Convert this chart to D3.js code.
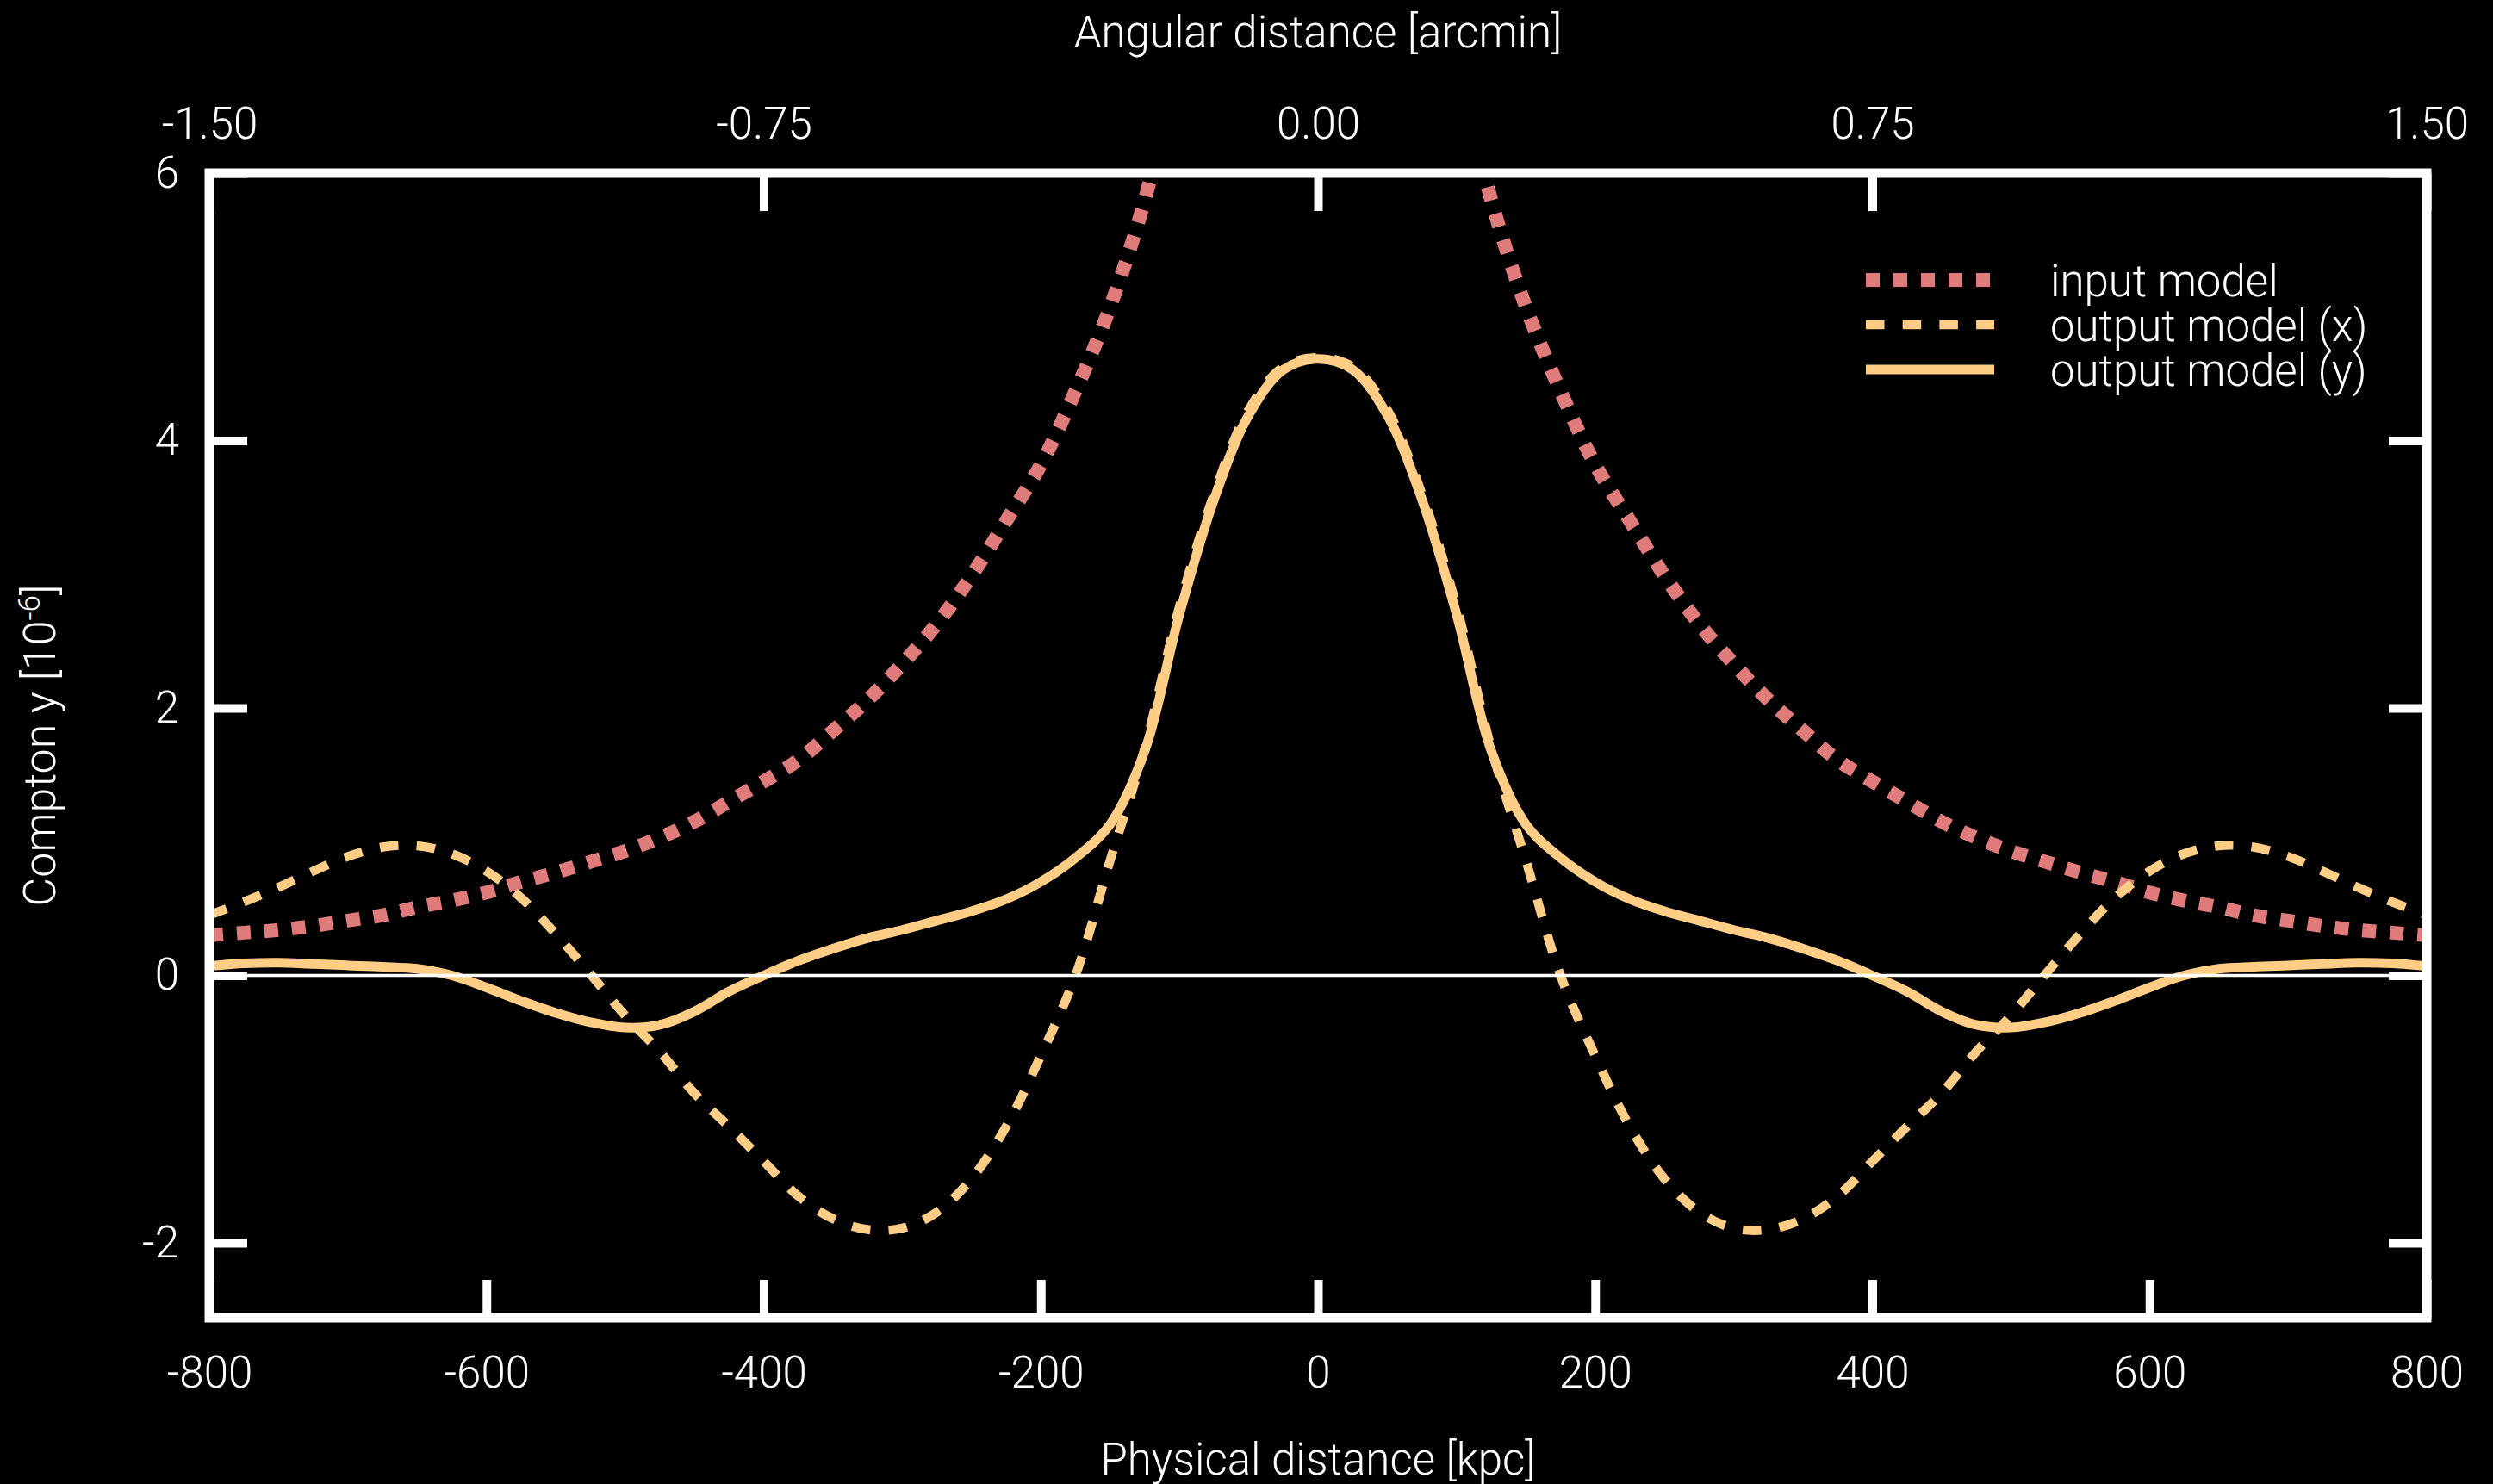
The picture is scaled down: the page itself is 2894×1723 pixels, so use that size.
<!DOCTYPE html>
<html>
<head>
<meta charset="utf-8">
<script src="https://cdn.jsdelivr.net/npm/d3@7"></script>
<style>
  body { margin: 0; background: #000; }
  text { font-family: Roboto, "Helvetica Neue", "Liberation Sans", sans-serif; font-weight: 300; font-size: 51px; fill: #fff; }
</style>
</head>
<body>
<div id="chart"></div>
<script>
// physical distance grid [kpc]
const kpc = [-800,-775,-750,-725,-700,-675,-650,-625,-600,-575,-550,-525,-500,-475,-450,-425,-400,
  -375,-350,-325,-300,-275,-250,-225,-200,-175,-150,-125,-100,-75,-50,-25,0,
  25,50,75,100,125,150,175,200,225,250,275,300,325,350,375,400,
  425,450,475,500,525,550,575,600,625,650,675,700,725,750,775,800];

// Compton y [1e-6]
const inputModel = [0.30,0.32,0.34,0.37,0.41,0.45,0.51,0.56,0.62,0.70,0.77,0.85,0.93,1.03,1.15,1.30,1.45,
  1.61,1.83,2.06,2.33,2.63,2.99,3.40,3.82,4.37,5.00,5.80,6.90,null,null,null,null,
  null,null,null,6.90,5.80,5.00,4.37,3.82,3.40,2.99,2.63,2.33,2.06,1.83,1.61,1.45,
  1.30,1.15,1.03,0.93,0.85,0.77,0.70,0.62,0.56,0.51,0.45,0.41,0.37,0.34,0.32,0.30];

const outputX = [0.45,0.55,0.66,0.78,0.89,0.96,0.97,0.91,0.78,0.58,0.31,0.01,-0.30,-0.57,-0.88,-1.13,-1.39,
  -1.65,-1.82,-1.90,-1.89,-1.77,-1.52,-1.13,-0.60,0.0,0.86,1.70,2.76,3.60,4.23,4.55,4.62,
  4.55,4.23,3.60,2.76,1.70,0.86,0.0,-0.60,-1.13,-1.52,-1.77,-1.89,-1.90,-1.82,-1.65,-1.39,
  -1.13,-0.88,-0.57,-0.30,0.01,0.31,0.58,0.78,0.91,0.97,0.96,0.89,0.78,0.66,0.55,0.45];

const outputY = [0.07,0.09,0.095,0.085,0.075,0.065,0.05,0.0,-0.09,-0.19,-0.28,-0.35,-0.39,-0.37,-0.27,-0.12,0.0,
  0.11,0.20,0.28,0.34,0.41,0.48,0.57,0.70,0.88,1.13,1.68,2.70,3.56,4.19,4.53,4.61,
  4.53,4.19,3.56,2.70,1.68,1.13,0.88,0.70,0.57,0.48,0.41,0.34,0.28,0.20,0.11,0.0,
  -0.12,-0.27,-0.37,-0.39,-0.35,-0.28,-0.19,-0.09,0.0,0.05,0.065,0.075,0.085,0.095,0.09,0.07];

const kpcTicks = [-800,-600,-400,-200,0,200,400,600,800];
const arcTicks = [-1.5,-0.75,0,0.75,1.5];
const yTicks = [-2,0,2,4,6];

const colorpel = { input: '#e07b7b', output: '#ffcd85', fg: '#ffffff', bg: '#000000' };

const series = [
  { name: 'input model', values: inputModel, color: colorpel.input, width: 16, dash: '16,16' },
  { name: 'output model (x)', values: outputX, color: colorpel.output, width: 10.5, dash: '21.5,21.2' },
  { name: 'output model (y)', values: outputY, color: colorpel.output, width: 11, dash: null }
];

let width = 2894, height = 1723;
const pLeft = 243, pRight = 2817, pTop = 201, pBottom = 1530;

const x = d3.scaleLinear().domain([-800, 800]).range([pLeft, pRight]);
const xTop = d3.scaleLinear().domain([-1.5, 1.5]).range([pLeft, pRight]);
const y = d3.scaleLinear().domain([-2.56, 6]).range([pBottom, pTop]);

let svg = d3.select('#chart').append('svg')
    .attr('width', width)
    .attr('height', height)
    .style('display', 'block')
    .style('background', colorpel.bg);

svg.append('clipPath').attr('id', 'plotclip')
  .append('rect')
    .attr('x', pLeft).attr('y', pTop)
    .attr('width', pRight - pLeft).attr('height', pBottom - pTop);

let g_lines = svg.append('g').attr('clip-path', 'url(#plotclip)');

const lineg = d3.line()
    .defined(d => d[1] != null)
    .x(d => x(d[0]))
    .y(d => y(d[1]))
    .curve(d3.curveCatmullRom.alpha(0.5));

series.forEach(s => {
    g_lines.append('path')
        .datum(kpc.map((k, i) => [k, s.values[i]]))
        .attr('d', lineg)
        .attr('fill', 'none')
        .attr('stroke', s.color)
        .attr('stroke-width', s.width)
        .attr('stroke-dasharray', s.dash)
        .attr('stroke-linecap', 'butt');
});

// zero line
g_lines.append('line')
    .attr('x1', pLeft).attr('x2', pRight)
    .attr('y1', y(0)).attr('y2', y(0))
    .attr('stroke', colorpel.fg)
    .attr('stroke-width', 3.5);

// axes, ticks pointing inwards
const tick = 44;
const styleAxis = g => {
    g.attr('color', colorpel.fg);
    g.select('.domain').remove();
    g.selectAll('.tick line').attr('stroke-width', 10);
};

svg.append('g')
    .attr('transform', `translate(0,${pBottom})`)
    .call(d3.axisBottom(x).tickValues(kpcTicks).tickSizeInner(-tick).tickSizeOuter(0)
        .tickPadding(45).tickFormat(d => String(d)))
    .call(styleAxis);

svg.append('g')
    .attr('transform', `translate(0,${pTop})`)
    .call(d3.axisTop(xTop).tickValues(arcTicks).tickSizeInner(-tick).tickSizeOuter(0)
        .tickPadding(40).tickFormat(d => d.toFixed(2)))
    .call(styleAxis);

svg.append('g')
    .attr('transform', `translate(${pLeft},0)`)
    .call(d3.axisLeft(y).tickValues(yTicks).tickSizeInner(-tick).tickSizeOuter(0)
        .tickPadding(35).tickFormat(d => String(d)))
    .call(styleAxis);

svg.append('g')
    .attr('transform', `translate(${pRight},0)`)
    .call(d3.axisRight(y).tickValues(yTicks).tickSizeInner(-tick).tickSizeOuter(0)
        .tickFormat(''))
    .call(styleAxis);

// frame
svg.append('rect')
    .attr('x', pLeft).attr('y', pTop)
    .attr('width', pRight - pLeft).attr('height', pBottom - pTop)
    .attr('fill', 'none')
    .attr('stroke', colorpel.fg)
    .attr('stroke-width', 11);

// axis titles
svg.append('text')
    .attr('x', (pLeft + pRight) / 2).attr('y', 1712)
    .attr('text-anchor', 'middle')
    .text('Physical distance [kpc]');

svg.append('text')
    .attr('x', (pLeft + pRight) / 2).attr('y', 55)
    .attr('text-anchor', 'middle')
    .text('Angular distance [arcmin]');

let ytitle = svg.append('text')
    .attr('transform', `translate(64,${(pTop + pBottom) / 2}) rotate(-90)`)
    .attr('text-anchor', 'middle')
    .style('font-size', '52px');
ytitle.append('tspan').text('Compton y [10');
ytitle.append('tspan').attr('dy', -18).style('font-size', '35px').text('-6');
ytitle.append('tspan').attr('dy', 18).text(']');

// legend
const legX = 2166, legW = 149, legText = 2380, legY = [325, 377, 429];
let legend = svg.append('g').attr('class', 'legend');
series.forEach((s, i) => {
    legend.append('line')
        .attr('x1', legX).attr('x2', legX + legW)
        .attr('y1', legY[i]).attr('y2', legY[i])
        .attr('stroke', s.color)
        .attr('stroke-width', s.width)
        .attr('stroke-dasharray', s.dash);
    legend.append('text')
        .attr('x', legText).attr('y', legY[i] + 19)
        .text(s.name);
});
</script>
</body>
</html>
